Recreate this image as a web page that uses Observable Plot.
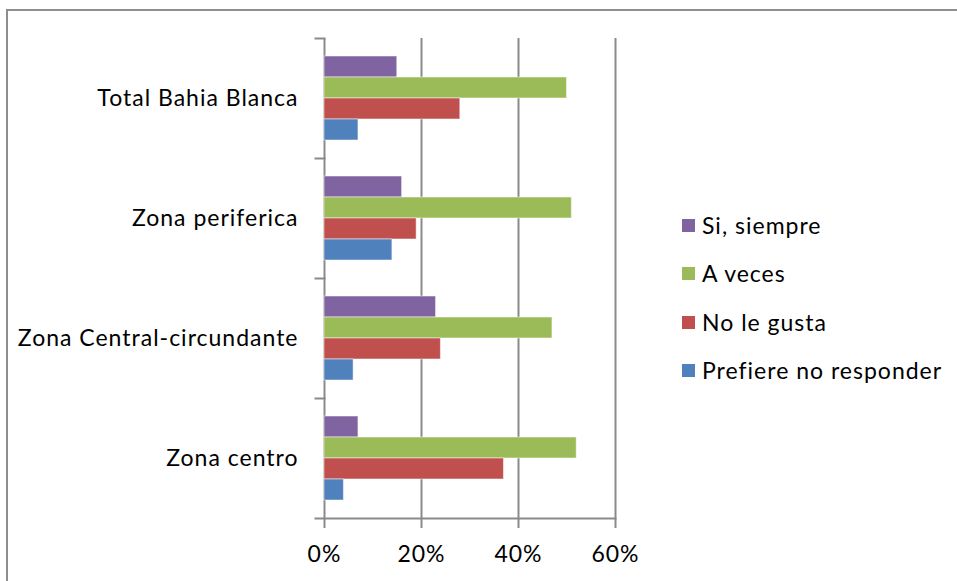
<!DOCTYPE html>
<html>
<head>
<meta charset="utf-8">
<script src="https://cdn.jsdelivr.net/npm/d3@7"></script>
<script src="https://cdn.jsdelivr.net/npm/@observablehq/plot@0.6"></script>
<style>
  html, body { margin: 0; padding: 0; background: #fff; }
  #wrap { position: relative; width: 957px; height: 581px; overflow: hidden; background: #fff; font-family: Lato, "Open Sans", sans-serif; }
  #border { position: absolute; left: 6px; top: 9px; width: 1000px; height: 1000px; border: 2px solid #8e8e8e; box-sizing: border-box; }
  #chart { position: absolute; left: 0; top: 0; }
  #legend { position: absolute; left: 682px; top: 0; }
  .item { position: absolute; left: 0; display: flex; align-items: center; white-space: nowrap; font-size: 23px; letter-spacing: 1px; color: #000; transform: translateY(-50%); }
  .sw { width: 13px; height: 13px; margin-right: 7px; }
</style>
</head>
<body>
<div id="wrap">
  <div id="border"></div>
  <div id="chart"></div>
  <div id="legend"></div>
</div>
<script>
const groups = ["Total Bahia Blanca", "Zona periferica", "Zona Central-circundante", "Zona centro"];
const series = ["Si, siempre", "A veces", "No le gusta", "Prefiere no responder"];
const colors = ["#8064A2", "#9BBB59", "#C0504D", "#4F81BD"];
const siSiempre = [0.15, 0.16, 0.23, 0.07];
const aVeces    = [0.50, 0.51, 0.47, 0.52];
const noLeGusta = [0.28, 0.19, 0.24, 0.37];
const prefiere  = [0.07, 0.14, 0.06, 0.04];
const xTicks = [0, 0.2, 0.4, 0.6];

const valuesBySeries = [siSiempre, aVeces, noLeGusta, prefiere];
const data = [];
groups.forEach((g, gi) => {
  series.forEach((s, si) => {
    data.push({group: g, series: s, value: valuesBySeries[si][gi]});
  });
});

const gray = "#8a8a8a";
const chart = Plot.plot({
  width: 957,
  height: 581,
  marginLeft: 324,
  marginRight: 342,
  marginTop: 38,
  marginBottom: 63,
  style: {fontFamily: "Lato, 'Open Sans', sans-serif", fontSize: "23px", letterSpacing: "1px", color: "#000", background: "transparent"},
  x: {domain: [0, 0.6], axis: null},
  y: {domain: series, paddingInner: 0, paddingOuter: 0.79, axis: null},
  fy: {domain: groups, padding: 0, axis: null},
  color: {domain: series, range: colors},
  marks: [
    Plot.gridX(xTicks, {stroke: gray, strokeOpacity: 1, strokeWidth: 2}),
    Plot.barX(data, {x: "value", y: "series", fy: "group", fill: "series", stroke: "#ffffff", strokeOpacity: 0.5, strokeWidth: 1}),
    Plot.frame({anchor: "top", insetLeft: -9, insetRight: 291, stroke: gray, strokeWidth: 2}),
    Plot.frame({anchor: "bottom", facetAnchor: "bottom", insetLeft: -9, stroke: gray, strokeWidth: 2}),
    Plot.axisFy({anchor: "left", label: null, tickSize: 0, tickPadding: 26, fontSize: 23, fill: "#000"}),
    Plot.axisX(xTicks, {anchor: "bottom", label: null, tickSize: 10, tickPadding: 17, stroke: gray, strokeWidth: 2, fill: "#000", fontSize: 23, tickFormat: d3.format(".0%")})
  ]
});
document.getElementById("chart").appendChild(chart);

const legend = document.getElementById("legend");
const rowY = [225, 273, 322, 370];
series.forEach((s, i) => {
  const item = document.createElement("div");
  item.className = "item";
  item.style.top = rowY[i] + "px";
  const sw = document.createElement("span");
  sw.className = "sw";
  sw.style.background = colors[i];
  item.appendChild(sw);
  item.appendChild(document.createTextNode(s));
  legend.appendChild(item);
});
</script>
</body>
</html>
